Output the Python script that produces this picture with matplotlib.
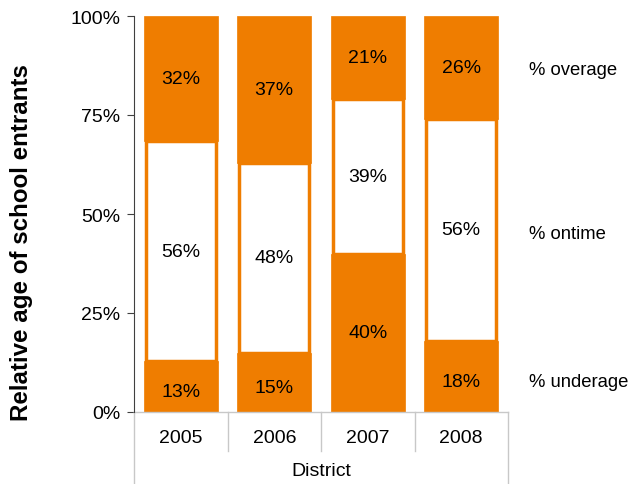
import matplotlib
matplotlib.use("Agg")
import matplotlib.pyplot as plt
import numpy as np
from matplotlib.lines import Line2D

plt.rcParams['font.family'] = ['Liberation Sans', 'DejaVu Sans']

years = ["2005", "2006", "2007", "2008"]
underage = [13, 15, 40, 18]
ontime = [56, 48, 39, 56]
overage = [32, 37, 21, 26]
series_labels = ["% underage", "% ontime", "% overage"]

orange = "#EF7D00"
FS = 14

fig = plt.figure(figsize=(6.34, 4.85), dpi=100)
ax = fig.add_axes([134/634, (485-413)/485, (508-134)/634, (413-17)/485])

u = np.array(underage, float); o = np.array(ontime, float); v = np.array(overage, float)
tot = u + o + v
u_n, o_n, v_n = u/tot*100, o/tot*100, v/tot*100
x = np.arange(len(years))
w = 0.79

ax.bar(x, u_n, w, color=orange, edgecolor=orange, linewidth=0.5)
ax.bar(x, o_n, w - 0.04, bottom=u_n, color="white", edgecolor=orange, linewidth=2.5)
ax.bar(x, v_n, w, bottom=u_n + o_n, color=orange, edgecolor=orange, linewidth=0.5)

for i in range(len(years)):
    ax.text(x[i], u_n[i]/2 - 1.2 if u_n[i] < 20 else u_n[i]/2, f"{underage[i]}%", ha="center", va="center", fontsize=FS)
    ax.text(x[i], u_n[i] + o_n[i]/2, f"{ontime[i]}%", ha="center", va="center", fontsize=FS)
    ax.text(x[i], u_n[i] + o_n[i] + v_n[i]/2, f"{overage[i]}%", ha="center", va="center", fontsize=FS)

ax.set_xlim(-0.5, len(years) - 0.5)
ax.set_ylim(0, 100)
ax.set_yticks([0, 25, 50, 75, 100])
ax.set_yticklabels(["0%", "25%", "50%", "75%", "100%"], fontsize=FS)
ax.set_xticks([])
for s in ["top", "right", "bottom"]:
    ax.spines[s].set_visible(False)
ax.spines["left"].set_color("#404040")
ax.tick_params(axis="y", direction="out", length=5, color="#404040", pad=5)

fig.text(22/634, 1 - 243/485, "Relative age of school entrants", rotation=90,
         ha="center", va="center", fontsize=17.4, fontweight="bold")

grey = "#C8C8C8"
trans = ax.get_xaxis_transform()
ax.add_line(Line2D([-0.5, len(years) - 0.5], [0, 0], transform=trans, color=grey, lw=1, clip_on=False))
h = 396
for b in np.arange(0.5, len(years) - 0.5, 1):
    ax.add_line(Line2D([b, b], [0, -39/h], transform=trans, color=grey, lw=1, clip_on=False))
for b in [-0.5, len(years) - 0.5]:
    ax.add_line(Line2D([b, b], [0, -75/h], transform=trans, color=grey, lw=1, clip_on=False))
for i, yr in enumerate(years):
    ax.text(x[i], -26/h, yr, transform=trans, ha="center", va="center", fontsize=FS)
ax.text((len(years) - 1)/2, -59/h, "District", transform=trans, ha="center", va="center", fontsize=FS)

last = len(years) - 1
ypos = [u_n[last]/2 - 1.2, u_n[last] + o_n[last]/2 - 0.8, u_n[last] + o_n[last] + v_n[last]/2 - 0.5]
for lab, yp in zip(series_labels, ypos):
    ax.text(len(years) - 0.5 + 21 / (374/4), yp, lab, ha="left", va="center", fontsize=13.3, clip_on=False)

fig.savefig("out.png", dpi=100)
